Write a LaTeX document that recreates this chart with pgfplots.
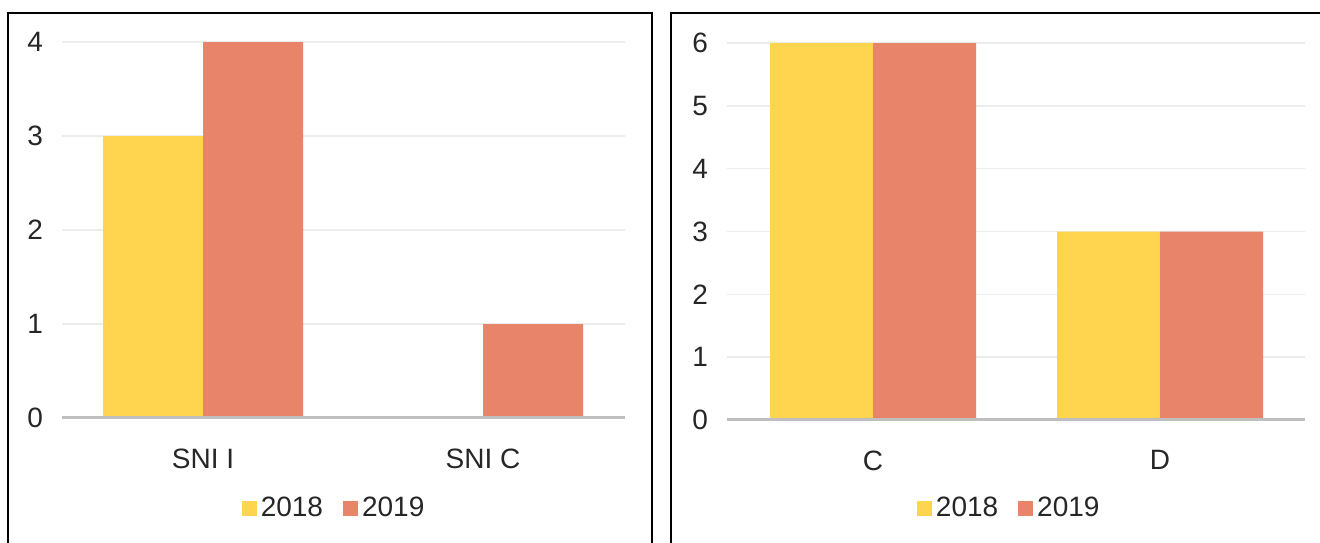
\documentclass[border=0pt]{standalone}
\usepackage{pgfplots}
\pgfplotsset{compat=1.18}
\usepackage{fontspec}
\setmainfont{Liberation Sans}
\definecolor{cyellow}{RGB}{255,213,79}
\definecolor{corange}{RGB}{232,132,106}
\definecolor{cgrid}{RGB}{236,236,236}
\definecolor{cbase}{RGB}{191,191,191}
\pgfplotsset{
  sq legend/.style={legend image code/.code={\fill[##1] (0pt,-3.75pt) rectangle (7.5pt,3.75pt);}},
  mystyle/.style={
    scale only axis,
    ybar=0pt,
    axis line style={draw=none},
    tick style={draw=none},
    ymajorgrids,
    grid style={cgrid, line width=0.8pt},
    ymin=0, enlarge y limits=false,
    xtick={0,1},
    ytick distance=1,
    /pgf/number format/assume math mode=true,
    ticklabel style={font=\fontsize{14}{16}\selectfont, text=black!85},
    yticklabel style={xshift=-6pt},
    xticklabel style={yshift=-7.5pt},
    legend style={draw=none, fill=none, legend columns=2,
      font=\fontsize{14}{16}\selectfont, text=black!85,
      /tikz/every even column/.append style={column sep=8pt},
      nodes={inner sep=2pt}},
  }
}
\begin{document}
\begin{tikzpicture}
\useasboundingbox (0,0) rectangle (660pt,271pt);
\clip (0,0) rectangle (660pt,271pt);
\begin{axis}[mystyle,
  at={(31pt,62pt)}, anchor=south west,
  width=281.5pt, height=188pt,
  xmin=-0.504, xmax=1.507, ymax=4,
  bar width=50pt,
  xticklabels={SNI I, SNI C},
  legend style={at={(0.485,-0.24)}, anchor=center}]
\addplot[fill=cyellow, draw=none, sq legend] coordinates {(0,3) (1,0)};
\addplot[fill=corange, draw=none, sq legend] coordinates {(0,4) (1,1)};
\draw[cbase, line width=1.6pt] (rel axis cs:0,0) -- (rel axis cs:1,0);
\legend{2018, 2019}
\end{axis}
\begin{axis}[mystyle,
  at={(363.5pt,61pt)}, anchor=south west,
  width=289pt, height=188.5pt,
  xmin=-0.509, xmax=1.505, ymax=6,
  bar width=51.5pt,
  xticklabels={C, D},
  legend style={at={(0.49,-0.235)}, anchor=center}]
\addplot[fill=cyellow, draw=none, sq legend] coordinates {(0,6) (1,3)};
\addplot[fill=corange, draw=none, sq legend] coordinates {(0,6) (1,3)};
\draw[cbase, line width=1.6pt] (rel axis cs:0,0) -- (rel axis cs:1,0);
\legend{2018, 2019}
\end{axis}
\draw[line width=1.2pt] (4pt,-5pt) -- (4pt,264.5pt) -- (326pt,264.5pt) -- (326pt,-5pt);
\draw[line width=1.2pt] (335.5pt,-5pt) -- (335.5pt,264.5pt) -- (665pt,264.5pt);
\end{tikzpicture}
\end{document}
